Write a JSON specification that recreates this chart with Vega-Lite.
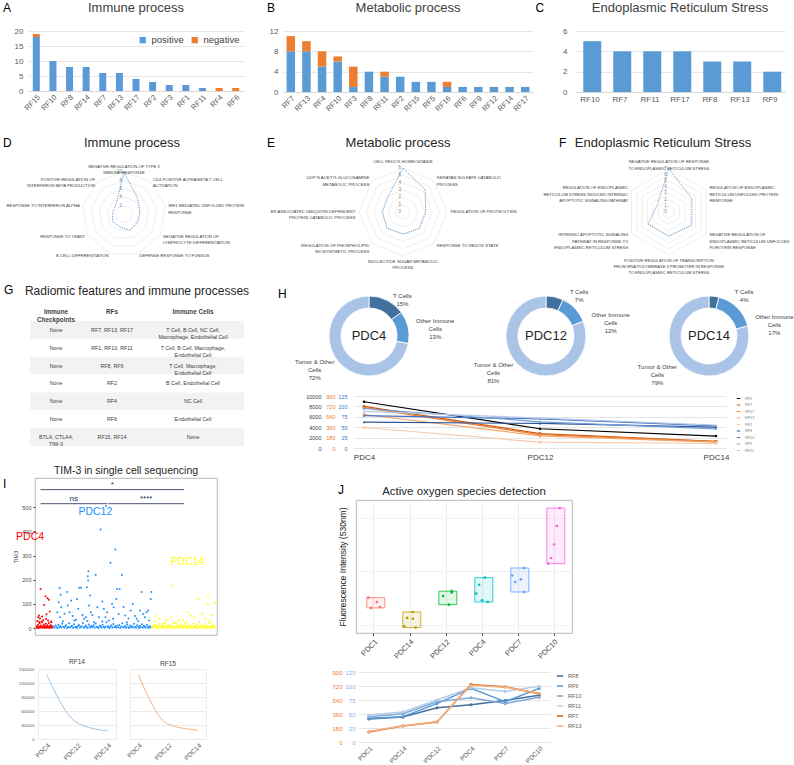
{
"$schema": "https://vega.github.io/schema/vega-lite/v6.json",
"background": "#FFFFFF",
"padding": {"left": 2, "top": 2, "right": 0, "bottom": 0},
"config": {
  "font": "Liberation Sans",
  "view": {"stroke": null},
  "axis": {"labelFont": "Liberation Sans", "titleFont": "Liberation Sans", "labelColor": "#595959", "titleColor": "#404040", "titleFontWeight": "normal", "gridColor": "#E6E6E6", "domainColor": "#D9D9D9", "tickColor": "#D9D9D9"},
  "title": {"font": "Liberation Sans", "fontWeight": "normal", "color": "#262626"},
  "legend": {"labelFont": "Liberation Sans"}
},
"datasets": {
  "A": [{"rf":"RF15","positive":18,"negative":1},{"rf":"RF10","positive":10,"negative":0},{"rf":"RF8","positive":8,"negative":0},{"rf":"RF14","positive":8,"negative":0},{"rf":"RF7","positive":6,"negative":0},{"rf":"RF13","positive":6,"negative":0},{"rf":"RF17","positive":4,"negative":0},{"rf":"RF2","positive":3,"negative":0},{"rf":"RF3","positive":2,"negative":0},{"rf":"RF1","positive":2,"negative":0},{"rf":"RF11","positive":1,"negative":0},{"rf":"RF4","positive":0,"negative":1},{"rf":"RF6","positive":0,"negative":1}],
  "B": [{"rf":"RF7","positive":8,"negative":3},{"rf":"RF13","positive":8,"negative":2},{"rf":"RF4","positive":5,"negative":3},{"rf":"RF10","positive":6,"negative":1},{"rf":"RF3","positive":1,"negative":4},{"rf":"RF8","positive":4,"negative":0},{"rf":"RF11","positive":3,"negative":1},{"rf":"RF2","positive":3,"negative":0},{"rf":"RF15","positive":2,"negative":0},{"rf":"RF5","positive":2,"negative":0},{"rf":"RF16","positive":1,"negative":1},{"rf":"RF6","positive":1,"negative":0},{"rf":"RF9","positive":1,"negative":0},{"rf":"RF12","positive":1,"negative":0},{"rf":"RF14","positive":1,"negative":0},{"rf":"RF17","positive":1,"negative":0}],
  "C": [{"rf":"RF10","n":5},{"rf":"RF7","n":4},{"rf":"RF11","n":4},{"rf":"RF17","n":4},{"rf":"RF8","n":3},{"rf":"RF13","n":3},{"rf":"RF9","n":2}],
  "D": [
    {"k":0,"lab":"NEGATIVE REGULATION OF TYPE 2\nIMMUNE RESPONSE","v":10},
    {"k":1,"lab":"CD4 POSITIVE ALPHA BETA T CELL\nACTIVATION","v":5},
    {"k":2,"lab":"IRE1 MEDIATED UNFOLDED PROTEIN\nRESPONSE","v":3.8},
    {"k":3,"lab":"NEGATIVE REGULATION OF\nLYMPHOCYTE DIFFERENTIATION","v":3.7},
    {"k":4,"lab":"DEFENSE RESPONSE TO FUNGUS","v":4.1},
    {"k":5,"lab":"B CELL DIFFERENTIATION","v":3.2},
    {"k":6,"lab":"RESPONSE TO YEAST","v":3.2},
    {"k":7,"lab":"RESPONSE TO INTERFERON ALPHA","v":2.7},
    {"k":8,"lab":"POSITIVE REGULATION OF\nINTERFERON BETA PRODUCTION","v":3}],
  "E": [
    {"k":0,"lab":"CELL REDOX HOMEOSTASIS","v":6},
    {"k":1,"lab":"KERATAN SULFATE CATABOLIC\nPROCESS","v":4.3},
    {"k":2,"lab":"REGULATION OF PROTEOLYSIS","v":3.1},
    {"k":3,"lab":"RESPONSE TO REDOX STATE","v":3.2},
    {"k":4,"lab":"NUCLEOTIDE SUGAR METABOLIC\nPROCESS","v":3.0},
    {"k":5,"lab":"REGULATION OF PHOSPHOLIPID\nBIOSYNTHETIC PROCESS","v":3.1},
    {"k":6,"lab":"ER ASSOCIATED UBIQUITIN DEPENDENT\nPROTEIN CATABOLIC PROCESS","v":2.8},
    {"k":7,"lab":"UDP N ACETYLGLUCOSAMINE\nMETABOLIC PROCESS","v":2.9}],
  "F": [
    {"k":0,"lab":"NEGATIVE REGULATION OF RESPONSE\nTO ENDOPLASMIC RETICULUM STRESS","v":7},
    {"k":1,"lab":"REGULATION OF ENDOPLASMIC\nRETICULUM UNFOLDED PROTEIN\nRESPONSE","v":4.3},
    {"k":2,"lab":"NEGATIVE REGULATION OF\nENDOPLASMIC RETICULUM UNFOLDED\nPOROTEIN RESPONSE","v":4.3},
    {"k":3,"lab":"POSITIVE REGULATION OF TRANSCRIPTION\nFROM RNA POLYMERASE II PROMOTER IN RESPONSE\nTO ENDOPLASMIC RETICULUM STERSS","v":3.9},
    {"k":4,"lab":"INTRINSIC APOPTOTIC SIGNALING\nPATHWAY IN RESPONSE TO\nENDOPLASMIC RETICULUM STRESS","v":3.9},
    {"k":5,"lab":"REGULATION OF ENDOPLASMIC\nRETICULUM STRESS INDUCED INTRINSIC\nAPOPTOTIC SIGNALING PATHWAY","v":2.2}],
  "tbl": [
    {"row":0,"ck":"Immune\nCheckpoints","rfs":"RFs","cells":"Immune Cells"},
    {"row":1,"ck":"None","rfs":"RF7, RF13, RF17","cells":"T Cell, B Cell, NC Cell,\nMacrophage, Endothelial Cell"},
    {"row":2,"ck":"None","rfs":"RF1, RF10, RF11","cells":"T Cell, B Cell, Macrophage,\nEndothelial Cell"},
    {"row":3,"ck":"None","rfs":"RF8, RF9","cells":"T Cell, Macrophage,\nEndothelial Cell"},
    {"row":4,"ck":"None","rfs":"RF2","cells":"B Cell, Endothelial Cell"},
    {"row":5,"ck":"None","rfs":"RF4","cells":"NC Cell"},
    {"row":6,"ck":"None","rfs":"RF6","cells":"Endothelial Cell"},
    {"row":7,"ck":"BTLA, CTLA4,\nTIM-3","rfs":"RF15, RF14","cells":"None"}],
  "donut": [
    {"pdc":"PDC4","cell":"T Cells","lab":"T Cells","pct":15,"o":1},
    {"pdc":"PDC4","cell":"Other Immune Cells","lab":"Other Immune\nCells","pct":13,"o":2},
    {"pdc":"PDC4","cell":"Tumor & Other Cells","lab":"Tumor & Other\nCells","pct":72,"o":3},
    {"pdc":"PDC12","cell":"T Cells","lab":"T Cells","pct":7,"o":1},
    {"pdc":"PDC12","cell":"Other Immune Cells","lab":"Other Immune\nCells","pct":12,"o":2},
    {"pdc":"PDC12","cell":"Tumor & Other Cells","lab":"Tumor & Other\nCells","pct":81,"o":3},
    {"pdc":"PDC14","cell":"T Cells","lab":"T Cells","pct":4,"o":1},
    {"pdc":"PDC14","cell":"Other Immune Cells","lab":"Other Immune\nCells","pct":17,"o":2},
    {"pdc":"PDC14","cell":"Tumor & Other Cells","lab":"Tumor & Other\nCells","pct":79,"o":3}],
  "hline": [
    {"pdc":"PDC4","RF1":8900,"RF7":720,"RF17":700,"RF13":580,"RF2":355,"RF8":62,"RF10":78,"RF9":95,"RF11":88},
    {"pdc":"PDC12","RF1":3700,"RF7":250,"RF17":230,"RF13":210,"RF2":100,"RF8":59,"RF10":70,"RF9":63,"RF11":72},
    {"pdc":"PDC14","RF1":2300,"RF7":116,"RF17":110,"RF13":100,"RF2":78,"RF8":50,"RF10":53,"RF9":46,"RF11":55}],
  "tim": [
    {"group":"PDC4","pts":[[0,3],[1,9],[3,2],[4,14],[6,5],[7,1],[9,20],[10,7],[12,4],[13,11],[15,2],[16,25],[18,6],[19,3],[21,15],[22,8],[24,1],[25,10],[27,4],[28,18],[30,2],[31,7],[33,12],[34,3],[36,5],[37,22],[39,1],[40,9],[42,4],[43,13],[45,6],[46,2],[48,8],[2,30],[8,26],[20,33],[44,28],[12,162],[27,132],[33,124],[37,117],[23,96],[40,69],[17,48],[29,38],[7,52],[35,32],[45,25],[5,45],[10,40],[30,58],[15,28]]},
    {"group":"PDC12","pts":[[51,5],[54,2],[57,11],[60,7],[63,1],[66,14],[69,4],[72,9],[75,3],[78,18],[81,6],[84,2],[87,8],[90,12],[93,1],[96,5],[99,20],[102,3],[105,7],[108,10],[111,2],[114,16],[117,4],[120,6],[123,1],[126,9],[129,13],[132,3],[135,5],[138,8],[141,22],[144,2],[147,6],[150,11],[153,4],[156,1],[159,15],[162,7],[165,3],[168,9],[171,5],[174,12],[177,2],[180,19],[183,6],[186,4],[189,1],[192,10],[195,8],[198,3],[201,14],[204,5],[207,2],[210,7],[213,25],[216,4],[219,9],[222,1],[225,6],[228,12],[231,3],[234,17],[237,5],[240,8],[243,2],[246,10],[249,4],[252,13],[255,1],[258,7],[261,21],[264,3],[267,6],[270,9],[273,2],[276,15],[279,5],[282,1],[285,11],[288,4],[291,8],[294,3],[297,18],[300,6],[303,2],[306,12],[309,7],[312,1],[315,9],[318,4],[321,16],[324,3],[327,10],[330,5],[333,2],[336,13],[339,6],[342,1],[345,8],[348,4],[70,166],[73,138],[67,107],[75,87],[63,66],[71,45],[80,28],[93,149],[95,94],[105,114],[100,66],[110,50],[115,32],[130,167],[135,167],[123,121],[127,80],[140,55],[145,39],[157,197],[158,235],[156,215],[153,169],[163,135],[160,94],[165,66],[150,45],[180,220],[185,87],[190,45],[175,25],[205,80],[210,45],[215,66],[220,32],[225,270],[240,325],[243,121],[235,87],[245,162],[253,162],[260,220],[250,59],[233,39],[270,52],[275,25],[287,73],[293,100],[300,50],[305,39],[315,73],[320,149],[325,59],[330,45],[335,66],[340,73],[350,149],[348,121],[343,32],[195,407],[212,504],[85,60],[120,35],[200,110],[230,100],[265,88],[280,40],[310,30],[200,28],[170,55],[155,30]]},
    {"group":"PDC14","pts":[[352,4],[355,9],[358,2],[361,13],[364,5],[367,1],[370,8],[373,16],[376,3],[379,6],[382,11],[385,2],[388,7],[391,19],[394,4],[397,1],[400,10],[403,5],[406,14],[409,3],[412,8],[415,2],[418,21],[421,6],[424,1],[427,12],[430,4],[433,9],[436,3],[439,15],[442,6],[445,2],[448,10],[451,5],[454,17],[457,1],[460,8],[463,4],[466,12],[469,3],[472,7],[475,2],[478,18],[481,5],[484,9],[487,1],[490,13],[493,4],[496,6],[499,2],[502,11],[505,7],[508,3],[511,15],[514,5],[517,1],[520,9],[523,4],[526,20],[529,2],[532,8],[535,3],[538,12],[541,6],[544,2],[415,176],[493,121],[523,128],[522,100],[545,105],[365,50],[375,39],[395,32],[410,45],[435,32],[460,66],[470,52],[480,45],[505,59],[515,39],[535,52],[495,25],[425,22],[385,18],[445,35],[530,30],[360,28],[455,25]]}],
  "timbr": [{"x1":12,"x2":450,"y":572},{"x1":12,"x2":215,"y":514},{"x1":218,"x2":450,"y":514}],
  "timtx": [{"x":231,"y":575,"t":"*"},{"x":113,"y":517,"t":"ns"},{"x":334,"y":517,"t":"****"}],
  "timlab": [{"x":-20,"y":376,"t":"PDC4"},{"x":179,"y":479,"t":"PDC12"},{"x":460,"y":273,"t":"PDC14"}],
  "rfc": [{"pdc":"PDC4","RF14":1380000,"RF15":1380000},{"pdc":"PDC12","RF14":350000,"RF15":320000},{"pdc":"PDC14","RF14":172000,"RF15":190000}],
  "ros": [
    {"pdc":"PDC1","rep":1,"v":253},{"pdc":"PDC1","rep":4,"v":237},{"pdc":"PDC1","rep":5,"v":218},{"pdc":"PDC1","rep":2,"v":215},
    {"pdc":"PDC14","rep":4,"v":200},{"pdc":"PDC14","rep":2,"v":178},{"pdc":"PDC14","rep":4,"v":175},{"pdc":"PDC14","rep":1,"v":147},{"pdc":"PDC14","rep":5,"v":142},
    {"pdc":"PDC12","rep":5,"v":277},{"pdc":"PDC12","rep":5,"v":272},{"pdc":"PDC12","rep":2,"v":259},{"pdc":"PDC12","rep":4,"v":227},
    {"pdc":"PDC4","rep":4,"v":327},{"pdc":"PDC4","rep":2,"v":301},{"pdc":"PDC4","rep":1,"v":268},{"pdc":"PDC4","rep":3,"v":243},{"pdc":"PDC4","rep":5,"v":237},
    {"pdc":"PDC7","rep":1,"v":335},{"pdc":"PDC7","rep":5,"v":363},{"pdc":"PDC7","rep":4,"v":321},{"pdc":"PDC7","rep":2,"v":311},{"pdc":"PDC7","rep":5,"v":274},
    {"pdc":"PDC10","rep":5,"v":585},{"pdc":"PDC10","rep":4,"v":519},{"pdc":"PDC10","rep":3,"v":450},{"pdc":"PDC10","rep":2,"v":400},{"pdc":"PDC10","rep":1,"v":379}],
  "jline": [
    {"pdc":"PDC1","RF8":41,"RF9":42.5,"RF10":45,"RF11":48,"RF7":130,"RF13":135},
    {"pdc":"PDC14","RF8":44.7,"RF9":45,"RF10":50.5,"RF11":53.7,"RF7":207,"RF13":210},
    {"pdc":"PDC12","RF8":61,"RF9":68.6,"RF10":71.8,"RF11":75,"RF7":257,"RF13":260},
    {"pdc":"PDC4","RF8":66.5,"RF9":95.7,"RF10":79,"RF11":96.8,"RF7":740,"RF13":730},
    {"pdc":"PDC7","RF8":74,"RF9":71.8,"RF10":68.6,"RF11":90.4,"RF7":710,"RF13":705},
    {"pdc":"PDC10","RF8":83.5,"RF9":95.7,"RF10":80,"RF11":99.5,"RF7":620,"RF13":630}]
},
"resolve": {"scale": {"color": "independent", "stroke": "independent"}, "legend": {"color": "independent", "stroke": "independent"}},
"vconcat": [
 {"resolve": {"scale": {"color": "independent", "stroke": "independent"}, "legend": {"color": "independent", "stroke": "independent"}},
  "vconcat": [
  {"resolve": {"scale": {"color": "independent", "stroke": "independent"}, "legend": {"color": "independent", "stroke": "independent"}},
   "hconcat": [
   {"width": 1, "height": 1, "data": {"values": []}, "mark": "point"},
   {"resolve": {"scale": {"color": "independent", "stroke": "independent"}, "legend": {"color": "independent", "stroke": "independent"}},
   "hconcat": [
    {"title": {"text": "A", "anchor": "start", "offset": -13, "fontSize": 12, "color": "#000000", "dx": -11},
     "resolve": {"scale": {"color": "independent", "stroke": "independent"}, "legend": {"color": "independent", "stroke": "independent"}},
     "vconcat": [{
      "title": {"text": "Immune process", "fontSize": 13, "offset": 12, "color": "#404040", "anchor": "middle"},
      "width": 216, "height": 60,
      "data": {"name": "A"},
      "transform": [{"fold": ["positive", "negative"], "as": ["type", "n"]}],
      "mark": {"type": "bar", "width": 7},
      "encoding": {
        "x": {"field": "rf", "type": "nominal", "sort": null, "scale": {"paddingInner": 0.6, "paddingOuter": 0.3}, "axis": {"title": null, "labelAngle": -45, "labelFontSize": 7.5, "ticks": false, "labelPadding": 2}},
        "y": {"field": "n", "type": "quantitative", "scale": {"domain": [0, 20]}, "axis": {"title": null, "values": [0, 5, 10, 15, 20], "labelFontSize": 8, "ticks": false, "domain": false, "labelPadding": 5}},
        "color": {"field": "type", "type": "nominal", "scale": {"domain": ["positive", "negative"], "range": ["#5B9BD5", "#ED7D31"]}, "legend": {"orient": "top-right", "title": null, "direction": "horizontal", "labelFontSize": 9.5, "labelColor": "#404040", "symbolType": "square", "symbolSize": 40, "offset": 4, "columnPadding": 6, "padding": 0}},
        "order": {"field": "type", "sort": "descending"}
      }
    }]},
    {"resolve": {"scale": {"color": "independent", "stroke": "independent"}, "legend": {"color": "independent", "stroke": "independent"}},
     "hconcat": [
      {"title": {"text": "B", "anchor": "start", "offset": -13, "fontSize": 12, "color": "#000000", "dx": -2},
       "resolve": {"scale": {"color": "independent", "stroke": "independent"}, "legend": {"color": "independent", "stroke": "independent"}},
       "vconcat": [{
        "title": {"text": "Metabolic process", "fontSize": 13, "offset": 12, "color": "#404040", "anchor": "middle"},
        "width": 250, "height": 61,
        "data": {"name": "B"},
        "transform": [{"fold": ["positive", "negative"], "as": ["type", "n"]}],
        "mark": {"type": "bar", "width": 8.5},
        "encoding": {
          "x": {"field": "rf", "type": "nominal", "sort": null, "scale": {"paddingInner": 0.45, "paddingOuter": 0.225}, "axis": {"title": null, "labelAngle": -45, "labelFontSize": 7.5, "ticks": false, "labelPadding": 2}},
          "y": {"field": "n", "type": "quantitative", "scale": {"domain": [0, 12]}, "axis": {"title": null, "values": [0, 4, 8, 12], "labelFontSize": 8, "ticks": false, "domain": false, "labelPadding": 5}},
          "color": {"field": "type", "type": "nominal", "scale": {"domain": ["positive", "negative"], "range": ["#5B9BD5", "#ED7D31"]}, "legend": null},
          "order": {"field": "type", "sort": "descending"}
        }
      }]},
      {"title": {"text": "C", "anchor": "start", "offset": -13, "fontSize": 12, "color": "#000000", "dx": -27},
       "resolve": {"scale": {"color": "independent", "stroke": "independent"}, "legend": {"color": "independent", "stroke": "independent"}},
       "vconcat": [{
        "title": {"text": "Endoplasmic Reticulum Stress", "fontSize": 13, "offset": 12, "color": "#404040", "anchor": "middle"},
        "width": 210, "height": 61,
        "data": {"name": "C"},
        "mark": {"type": "bar", "color": "#5B9BD5"},
        "encoding": {
          "x": {"field": "rf", "type": "nominal", "sort": null, "scale": {"paddingInner": 0.55, "paddingOuter": 0.275}, "axis": {"title": null, "labelAngle": 0, "labelFontSize": 8, "ticks": false, "labelPadding": 3}},
          "y": {"field": "n", "type": "quantitative", "scale": {"domain": [0, 6]}, "axis": {"title": null, "values": [0, 2, 4, 6], "labelFontSize": 8, "ticks": false, "domain": false, "labelPadding": 8}}
        }
      }]}
    ], "spacing": 2}
  ], "spacing": 23}
  ], "spacing": 0},
  {"resolve": {"scale": {"color": "independent", "stroke": "independent"}, "legend": {"color": "independent", "stroke": "independent"}},
   "hconcat": [
   {"width": 1, "height": 1, "data": {"values": []}, "mark": "point"},
   {"hconcat": [
    {"title": {"text": "D", "anchor": "start", "offset": -13, "fontSize": 12, "color": "#000000"},
     "vconcat": [{
      "title": {"text": "Immune process", "fontSize": 13, "offset": 2, "color": "#262626", "anchor": "middle"},
      "width": 258, "height": 118,
      "encoding": {
        "x": {"field": "x", "type": "quantitative", "scale": {"domain": [-28.8, 32.6], "nice": false, "zero": false}, "axis": null},
        "y": {"field": "y", "type": "quantitative", "scale": {"domain": [-13.3, 14.8], "nice": false, "zero": false}, "axis": null}
      },
      "layer": [
        {"data": {"values": [{"ring":2,"k":[0,1,2,3,4,5,6,7,8]},{"ring":4,"k":[0,1,2,3,4,5,6,7,8]},{"ring":6,"k":[0,1,2,3,4,5,6,7,8]},{"ring":8,"k":[0,1,2,3,4,5,6,7,8]},{"ring":10,"k":[0,1,2,3,4,5,6,7,8]}]},
         "transform": [{"flatten": ["k"]}, {"calculate": "2*PI*datum.k/9", "as": "a"}, {"calculate": "datum.ring*sin(datum.a)", "as": "x"}, {"calculate": "datum.ring*cos(datum.a)", "as": "y"}],
         "mark": {"type": "line", "interpolate": "linear-closed", "stroke": "#E3E3E3", "strokeWidth": 0.6},
         "encoding": {"detail": {"field": "ring", "type": "nominal"}, "order": {"field": "k", "type": "quantitative"}}},
        {"data": {"values": [{"ring":2},{"ring":4},{"ring":6},{"ring":8},{"ring":10}]},
         "transform": [{"calculate": "0", "as": "x"}, {"calculate": "datum.ring", "as": "y"}],
         "mark": {"type": "text", "align": "right", "dx": -2, "fontSize": 4.5, "color": "#7F7F7F"},
         "encoding": {"text": {"field": "ring", "type": "quantitative"}}},
        {"data": {"name": "D"},
         "transform": [{"calculate": "2*PI*datum.k/9", "as": "a"}, {"calculate": "datum.v*sin(datum.a)", "as": "x"}, {"calculate": "datum.v*cos(datum.a)", "as": "y"}],
         "mark": {"type": "line", "interpolate": "linear-closed", "stroke": "#5B9BD5", "strokeWidth": 1, "strokeDash": [1.2, 1.2]},
         "encoding": {"order": {"field": "k", "type": "quantitative"}}},
        {"data": {"name": "D"},
         "transform": [{"calculate": "2*PI*datum.k/9", "as": "a"}, {"calculate": "10.7*sin(datum.a)", "as": "x"}, {"calculate": "10.7*cos(datum.a)", "as": "y"}, {"filter": "sin(datum.a) > 0.05"}],
         "mark": {"type": "text", "align": "left", "baseline": "middle", "fontSize": 4.2, "lineBreak": "\n", "color": "#404040"},
         "encoding": {"text": {"field": "lab", "type": "nominal"}}},
        {"data": {"name": "D"},
         "transform": [{"calculate": "2*PI*datum.k/9", "as": "a"}, {"calculate": "10.7*sin(datum.a)", "as": "x"}, {"calculate": "10.7*cos(datum.a)", "as": "y"}, {"filter": "sin(datum.a) < -0.05"}],
         "mark": {"type": "text", "align": "right", "baseline": "middle", "fontSize": 4.2, "lineBreak": "\n", "color": "#404040"},
         "encoding": {"text": {"field": "lab", "type": "nominal"}}},
        {"data": {"name": "D"},
         "transform": [{"calculate": "2*PI*datum.k/9", "as": "a"}, {"calculate": "10.7*sin(datum.a)", "as": "x"}, {"calculate": "10.7*cos(datum.a)", "as": "y"}, {"filter": "abs(sin(datum.a)) <= 0.05 && cos(datum.a) > 0"}],
         "mark": {"type": "text", "align": "center", "baseline": "bottom", "fontSize": 4.2, "lineBreak": "\n", "color": "#404040"},
         "encoding": {"text": {"field": "lab", "type": "nominal"}}}
      ]
    }]},
    {"hconcat": [
      {"title": {"text": "E", "anchor": "start", "offset": -13, "fontSize": 12, "color": "#000000"},
       "vconcat": [{
        "title": {"text": "Metabolic process", "fontSize": 13, "offset": 2, "color": "#262626", "anchor": "middle"},
        "width": 262, "height": 118,
        "encoding": {
          "x": {"field": "x", "type": "quantitative", "scale": {"domain": [-18.55, 17.2], "nice": false, "zero": false}, "axis": null},
          "y": {"field": "y", "type": "quantitative", "scale": {"domain": [-7.9, 8.2], "nice": false, "zero": false}, "axis": null}
        },
        "layer": [
          {"data": {"values": [{"ring":1,"k":[0,1,2,3,4,5,6,7]},{"ring":2,"k":[0,1,2,3,4,5,6,7]},{"ring":3,"k":[0,1,2,3,4,5,6,7]},{"ring":4,"k":[0,1,2,3,4,5,6,7]},{"ring":5,"k":[0,1,2,3,4,5,6,7]},{"ring":6,"k":[0,1,2,3,4,5,6,7]}]},
           "transform": [{"flatten": ["k"]}, {"calculate": "2*PI*datum.k/8", "as": "a"}, {"calculate": "datum.ring*sin(datum.a)", "as": "x"}, {"calculate": "datum.ring*cos(datum.a)", "as": "y"}],
           "mark": {"type": "line", "interpolate": "linear-closed", "stroke": "#E3E3E3", "strokeWidth": 0.6},
           "encoding": {"detail": {"field": "ring", "type": "nominal"}, "order": {"field": "k", "type": "quantitative"}}},
          {"data": {"values": [{"ring":0},{"ring":1},{"ring":2},{"ring":3},{"ring":4},{"ring":5},{"ring":6}]},
           "transform": [{"calculate": "0", "as": "x"}, {"calculate": "datum.ring", "as": "y"}],
           "mark": {"type": "text", "align": "right", "dx": -2, "fontSize": 4.5, "color": "#7F7F7F"},
           "encoding": {"text": {"field": "ring", "type": "quantitative"}}},
          {"data": {"name": "E"},
           "transform": [{"calculate": "2*PI*datum.k/8", "as": "a"}, {"calculate": "datum.v*sin(datum.a)", "as": "x"}, {"calculate": "datum.v*cos(datum.a)", "as": "y"}],
           "mark": {"type": "line", "interpolate": "linear-closed", "stroke": "#5B9BD5", "strokeWidth": 1, "strokeDash": [1.2, 1.2]},
           "encoding": {"order": {"field": "k", "type": "quantitative"}}},
          {"data": {"name": "E"},
           "transform": [{"calculate": "2*PI*datum.k/8", "as": "a"}, {"calculate": "6.5*sin(datum.a)", "as": "x"}, {"calculate": "6.5*cos(datum.a)", "as": "y"}, {"filter": "sin(datum.a) > 0.05"}],
           "mark": {"type": "text", "align": "left", "baseline": "middle", "fontSize": 4.3, "lineBreak": "\n", "color": "#404040"},
           "encoding": {"text": {"field": "lab", "type": "nominal"}}},
          {"data": {"name": "E"},
           "transform": [{"calculate": "2*PI*datum.k/8", "as": "a"}, {"calculate": "6.5*sin(datum.a)", "as": "x"}, {"calculate": "6.5*cos(datum.a)", "as": "y"}, {"filter": "sin(datum.a) < -0.05"}],
           "mark": {"type": "text", "align": "right", "baseline": "middle", "fontSize": 4.3, "lineBreak": "\n", "color": "#404040"},
           "encoding": {"text": {"field": "lab", "type": "nominal"}}},
          {"data": {"name": "E"},
           "transform": [{"calculate": "2*PI*datum.k/8", "as": "a"}, {"calculate": "6.5*sin(datum.a)", "as": "x"}, {"calculate": "6.5*cos(datum.a)", "as": "y"}, {"filter": "abs(sin(datum.a)) <= 0.05 && cos(datum.a) > 0"}],
           "mark": {"type": "text", "align": "center", "baseline": "bottom", "fontSize": 4.3, "lineBreak": "\n", "color": "#404040"},
           "encoding": {"text": {"field": "lab", "type": "nominal"}}},
          {"data": {"name": "E"},
           "transform": [{"calculate": "2*PI*datum.k/8", "as": "a"}, {"calculate": "6.5*sin(datum.a)", "as": "x"}, {"calculate": "6.5*cos(datum.a)", "as": "y"}, {"filter": "abs(sin(datum.a)) <= 0.05 && cos(datum.a) < 0"}],
           "mark": {"type": "text", "align": "center", "baseline": "top", "fontSize": 4.3, "lineBreak": "\n", "color": "#404040"},
           "encoding": {"text": {"field": "lab", "type": "nominal"}}}
        ]
      }]},
      {"title": {"text": "F", "anchor": "start", "offset": -13, "fontSize": 12, "color": "#000000", "dx": 26},
       "vconcat": [{
        "title": {"text": "Endoplasmic Reticulum Stress", "fontSize": 13, "offset": 2, "color": "#262626", "anchor": "middle"},
        "width": 260, "height": 118,
        "encoding": {
          "x": {"field": "x", "type": "quantitative", "scale": {"domain": [-22.0, 20.1], "nice": false, "zero": false}, "axis": null},
          "y": {"field": "y", "type": "quantitative", "scale": {"domain": [-9.4, 9.7], "nice": false, "zero": false}, "axis": null}
        },
        "layer": [
          {"data": {"values": [{"ring":1,"k":[0,1,2,3,4,5]},{"ring":2,"k":[0,1,2,3,4,5]},{"ring":3,"k":[0,1,2,3,4,5]},{"ring":4,"k":[0,1,2,3,4,5]},{"ring":5,"k":[0,1,2,3,4,5]},{"ring":6,"k":[0,1,2,3,4,5]},{"ring":7,"k":[0,1,2,3,4,5]}]},
           "transform": [{"flatten": ["k"]}, {"calculate": "2*PI*datum.k/6", "as": "a"}, {"calculate": "datum.ring*sin(datum.a)", "as": "x"}, {"calculate": "datum.ring*cos(datum.a)", "as": "y"}],
           "mark": {"type": "line", "interpolate": "linear-closed", "stroke": "#E3E3E3", "strokeWidth": 0.6},
           "encoding": {"detail": {"field": "ring", "type": "nominal"}, "order": {"field": "k", "type": "quantitative"}}},
          {"data": {"values": [{"ring":0},{"ring":1},{"ring":2},{"ring":3},{"ring":4},{"ring":5},{"ring":6},{"ring":7}]},
           "transform": [{"calculate": "0", "as": "x"}, {"calculate": "datum.ring", "as": "y"}],
           "mark": {"type": "text", "align": "right", "dx": -2, "fontSize": 4.5, "color": "#7F7F7F"},
           "encoding": {"text": {"field": "ring", "type": "quantitative"}}},
          {"data": {"name": "F"},
           "transform": [{"calculate": "2*PI*datum.k/6", "as": "a"}, {"calculate": "datum.v*sin(datum.a)", "as": "x"}, {"calculate": "datum.v*cos(datum.a)", "as": "y"}],
           "mark": {"type": "line", "interpolate": "linear-closed", "stroke": "#5B9BD5", "strokeWidth": 1, "strokeDash": [1.2, 1.2]},
           "encoding": {"order": {"field": "k", "type": "quantitative"}}},
          {"data": {"name": "F"},
           "transform": [{"calculate": "2*PI*datum.k/6", "as": "a"}, {"calculate": "7.6*sin(datum.a)", "as": "x"}, {"calculate": "7.6*cos(datum.a)", "as": "y"}, {"filter": "sin(datum.a) > 0.05"}],
           "mark": {"type": "text", "align": "left", "baseline": "middle", "fontSize": 4.2, "lineBreak": "\n", "color": "#404040"},
           "encoding": {"text": {"field": "lab", "type": "nominal"}}},
          {"data": {"name": "F"},
           "transform": [{"calculate": "2*PI*datum.k/6", "as": "a"}, {"calculate": "7.6*sin(datum.a)", "as": "x"}, {"calculate": "7.6*cos(datum.a)", "as": "y"}, {"filter": "sin(datum.a) < -0.05"}],
           "mark": {"type": "text", "align": "right", "baseline": "middle", "fontSize": 4.2, "lineBreak": "\n", "color": "#404040"},
           "encoding": {"text": {"field": "lab", "type": "nominal"}}},
          {"data": {"name": "F"},
           "transform": [{"calculate": "2*PI*datum.k/6", "as": "a"}, {"calculate": "7.7*sin(datum.a)", "as": "x"}, {"calculate": "7.7*cos(datum.a)", "as": "y"}, {"filter": "abs(sin(datum.a)) <= 0.05 && cos(datum.a) > 0"}],
           "mark": {"type": "text", "align": "center", "baseline": "bottom", "fontSize": 4.2, "lineBreak": "\n", "color": "#404040"},
           "encoding": {"text": {"field": "lab", "type": "nominal"}}},
          {"data": {"name": "F"},
           "transform": [{"calculate": "2*PI*datum.k/6", "as": "a"}, {"calculate": "7.6*sin(datum.a)", "as": "x"}, {"calculate": "7.6*cos(datum.a)", "as": "y"}, {"filter": "abs(sin(datum.a)) <= 0.05 && cos(datum.a) < 0"}],
           "mark": {"type": "text", "align": "center", "baseline": "top", "fontSize": 4.2, "lineBreak": "\n", "color": "#404040"},
           "encoding": {"text": {"field": "lab", "type": "nominal"}}}
        ]
      }]}
    ], "spacing": 4}
  ], "spacing": 6}
  ], "spacing": 0}
 ], "spacing": 24},
 {"resolve": {"scale": {"color": "independent", "stroke": "independent"}, "legend": {"color": "independent", "stroke": "independent"}},
  "vconcat": [
  {"resolve": {"scale": {"color": "independent", "stroke": "independent"}, "legend": {"color": "independent", "stroke": "independent"}},
   "hconcat": [
   {"width": 1, "height": 1, "data": {"values": []}, "mark": "point"},
   {"resolve": {"scale": {"color": "independent", "stroke": "independent"}, "legend": {"color": "independent", "stroke": "independent"}},
    "hconcat": [
    {"title": {"text": "G", "anchor": "start", "offset": -12, "fontSize": 12, "color": "#000000", "dx": -21},
     "vconcat": [{
      "title": {"text": "Radiomic features and immune processes", "fontSize": 12, "offset": 5, "color": "#262626", "anchor": "middle"},
      "hconcat": [
        {"width": 52, "height": 143, "data": {"name": "tbl"},
         "transform": [{"calculate": "datum.row % 2", "as": "par"}],
         "encoding": {"y": {"field": "row", "type": "ordinal", "axis": null, "scale": {"paddingInner": 0, "paddingOuter": 0}}},
         "layer": [
           {"mark": {"type": "bar"}, "encoding": {"color": {"field": "par", "type": "nominal", "scale": {"domain": [0, 1], "range": ["#FFFFFF", "#F2F2F2"]}, "legend": null}}},
           {"transform": [{"filter": "datum.row > 0"}], "mark": {"type": "text", "fontSize": 5.3, "lineBreak": "\n", "color": "#404040"}, "encoding": {"text": {"field": "ck", "type": "nominal"}}},
           {"transform": [{"filter": "datum.row == 0"}], "mark": {"type": "text", "fontSize": 6.3, "fontWeight": "bold", "lineBreak": "\n", "color": "#404040"}, "encoding": {"text": {"field": "ck", "type": "nominal"}}}
         ]},
        {"width": 60, "height": 143, "data": {"name": "tbl"},
         "transform": [{"calculate": "datum.row % 2", "as": "par"}],
         "encoding": {"y": {"field": "row", "type": "ordinal", "axis": null, "scale": {"paddingInner": 0, "paddingOuter": 0}}},
         "layer": [
           {"mark": {"type": "bar"}, "encoding": {"color": {"field": "par", "type": "nominal", "scale": {"domain": [0, 1], "range": ["#FFFFFF", "#F2F2F2"]}, "legend": null}}},
           {"transform": [{"filter": "datum.row > 0"}], "mark": {"type": "text", "fontSize": 5.3, "lineBreak": "\n", "color": "#404040"}, "encoding": {"text": {"field": "rfs", "type": "nominal"}}},
           {"transform": [{"filter": "datum.row == 0"}], "mark": {"type": "text", "fontSize": 6.3, "fontWeight": "bold", "lineBreak": "\n", "color": "#404040"}, "encoding": {"text": {"field": "rfs", "type": "nominal"}}}
         ]},
        {"width": 102, "height": 143, "data": {"name": "tbl"},
         "transform": [{"calculate": "datum.row % 2", "as": "par"}],
         "encoding": {"y": {"field": "row", "type": "ordinal", "axis": null, "scale": {"paddingInner": 0, "paddingOuter": 0}}},
         "layer": [
           {"mark": {"type": "bar"}, "encoding": {"color": {"field": "par", "type": "nominal", "scale": {"domain": [0, 1], "range": ["#FFFFFF", "#F2F2F2"]}, "legend": null}}},
           {"transform": [{"filter": "datum.row > 0"}], "mark": {"type": "text", "fontSize": 5.3, "lineBreak": "\n", "color": "#404040"}, "encoding": {"text": {"field": "cells", "type": "nominal"}}},
           {"transform": [{"filter": "datum.row == 0"}], "mark": {"type": "text", "fontSize": 6.3, "fontWeight": "bold", "lineBreak": "\n", "color": "#404040"}, "encoding": {"text": {"field": "cells", "type": "nominal"}}}
         ]}
      ], "spacing": 0
    }]},
    {"title": {"text": "H", "anchor": "start", "offset": -12, "fontSize": 12, "color": "#000000"},
     "resolve": {"scale": {"color": "independent", "stroke": "independent"}, "legend": {"color": "independent", "stroke": "independent"}},
     "vconcat": [
      {"hconcat": [
       {"width": 1, "height": 1, "data": {"values": []}, "mark": "point"},
       {"hconcat": [
        {"width": 180, "height": 66, "data": {"name": "donut"},
         "transform": [{"filter": "datum.pdc == 'PDC4'"}, {"calculate": "datum.lab + '\\n' + datum.pct + '%'", "as": "txt"}],
         "encoding": {"theta": {"field": "pct", "type": "quantitative", "stack": true, "scale": {"domain": [0, 100]}}, "order": {"field": "o", "type": "quantitative"}},
         "layer": [
           {"mark": {"type": "arc", "innerRadius": 28, "outerRadius": 40, "stroke": "#FFFFFF", "strokeWidth": 0.8}, "encoding": {"color": {"field": "cell", "type": "nominal", "scale": {"domain": ["T Cells", "Other Immune Cells", "Tumor & Other Cells"], "range": ["#41719C", "#5B9BD5", "#A9C4E6"]}, "legend": null}}},
           {"transform": [{"filter": "datum.o == 1"}], "mark": {"type": "text", "radius": 52, "fontSize": 6, "lineBreak": "\n", "color": "#404040"}, "encoding": {"theta": {"datum": 11.1, "type": "quantitative", "stack": null}, "text": {"field": "txt", "type": "nominal"}}},
           {"transform": [{"filter": "datum.o == 2"}], "mark": {"type": "text", "radius": 68, "fontSize": 6, "lineBreak": "\n", "color": "#404040"}, "encoding": {"theta": {"datum": 21.4, "type": "quantitative", "stack": null}, "text": {"field": "txt", "type": "nominal"}}},
           {"transform": [{"filter": "datum.o == 3"}], "mark": {"type": "text", "radius": 60, "fontSize": 6, "lineBreak": "\n", "color": "#404040"}, "encoding": {"theta": {"datum": 68, "type": "quantitative", "stack": null}, "text": {"field": "txt", "type": "nominal"}}},
           {"transform": [{"filter": "datum.o == 1"}], "mark": {"type": "text", "radius": 0, "fontSize": 13, "color": "#262626"}, "encoding": {"text": {"field": "pdc", "type": "nominal"}}}
         ]},
        {"width": 174, "height": 66, "data": {"name": "donut"},
         "transform": [{"filter": "datum.pdc == 'PDC12'"}, {"calculate": "datum.lab + '\\n' + datum.pct + '%'", "as": "txt"}],
         "encoding": {"theta": {"field": "pct", "type": "quantitative", "stack": true, "scale": {"domain": [0, 100]}}, "order": {"field": "o", "type": "quantitative"}},
         "layer": [
           {"mark": {"type": "arc", "innerRadius": 28, "outerRadius": 40, "stroke": "#FFFFFF", "strokeWidth": 0.8}, "encoding": {"color": {"field": "cell", "type": "nominal", "scale": {"domain": ["T Cells", "Other Immune Cells", "Tumor & Other Cells"], "range": ["#41719C", "#5B9BD5", "#A9C4E6"]}, "legend": null}}},
           {"transform": [{"filter": "datum.o == 1"}], "mark": {"type": "text", "radius": 55, "fontSize": 6, "lineBreak": "\n", "color": "#404040"}, "encoding": {"theta": {"datum": 10.3, "type": "quantitative", "stack": null}, "text": {"field": "txt", "type": "nominal"}}},
           {"transform": [{"filter": "datum.o == 2"}], "mark": {"type": "text", "radius": 68, "fontSize": 6, "lineBreak": "\n", "color": "#404040"}, "encoding": {"theta": {"datum": 20, "type": "quantitative", "stack": null}, "text": {"field": "txt", "type": "nominal"}}},
           {"transform": [{"filter": "datum.o == 3"}], "mark": {"type": "text", "radius": 60, "fontSize": 6, "lineBreak": "\n", "color": "#404040"}, "encoding": {"theta": {"datum": 67, "type": "quantitative", "stack": null}, "text": {"field": "txt", "type": "nominal"}}},
           {"transform": [{"filter": "datum.o == 1"}], "mark": {"type": "text", "radius": 0, "fontSize": 13, "color": "#262626"}, "encoding": {"text": {"field": "pdc", "type": "nominal"}}}
         ]},
        {"width": 152, "height": 66, "data": {"name": "donut"},
         "transform": [{"filter": "datum.pdc == 'PDC14'"}, {"calculate": "datum.lab + '\\n' + datum.pct + '%'", "as": "txt"}],
         "encoding": {"theta": {"field": "pct", "type": "quantitative", "stack": true, "scale": {"domain": [0, 100]}}, "order": {"field": "o", "type": "quantitative"}},
         "layer": [
           {"mark": {"type": "arc", "innerRadius": 28, "outerRadius": 40, "stroke": "#FFFFFF", "strokeWidth": 0.8}, "encoding": {"color": {"field": "cell", "type": "nominal", "scale": {"domain": ["T Cells", "Other Immune Cells", "Tumor & Other Cells"], "range": ["#41719C", "#5B9BD5", "#A9C4E6"]}, "legend": null}}},
           {"transform": [{"filter": "datum.o == 1"}], "mark": {"type": "text", "radius": 56, "fontSize": 6, "lineBreak": "\n", "color": "#404040"}, "encoding": {"theta": {"datum": 10.8, "type": "quantitative", "stack": null}, "text": {"field": "txt", "type": "nominal"}}},
           {"transform": [{"filter": "datum.o == 2"}], "mark": {"type": "text", "radius": 68, "fontSize": 6, "lineBreak": "\n", "color": "#404040"}, "encoding": {"theta": {"datum": 20.5, "type": "quantitative", "stack": null}, "text": {"field": "txt", "type": "nominal"}}},
           {"transform": [{"filter": "datum.o == 3"}], "mark": {"type": "text", "radius": 60, "fontSize": 6, "lineBreak": "\n", "color": "#404040"}, "encoding": {"theta": {"datum": 66.5, "type": "quantitative", "stack": null}, "text": {"field": "txt", "type": "nominal"}}},
           {"transform": [{"filter": "datum.o == 1"}], "mark": {"type": "text", "radius": 0, "fontSize": 13, "color": "#262626"}, "encoding": {"text": {"field": "pdc", "type": "nominal"}}}
         ]}
       ], "spacing": 0}
      ], "spacing": 0},
      {"resolve": {"scale": {"color": "independent", "stroke": "independent"}, "legend": {"color": "independent", "stroke": "independent"}},
       "hconcat": [
       {"width": 1, "height": 1, "data": {"values": []}, "mark": "point"},
       {"resolve": {"scale": {"color": "independent", "stroke": "independent"}, "legend": {"color": "independent", "stroke": "independent"}},
        "vconcat": [
       {"width": 372, "height": 52, "data": {"name": "hline"},
       "layer": [
         {"transform": [{"fold": ["RF1"], "as": ["rf", "v"]}],
          "mark": {"type": "line", "strokeWidth": 1.2, "point": {"size": 7, "filled": true}},
          "encoding": {
            "x": {"field": "pdc", "type": "ordinal", "sort": null, "scale": {"type": "point", "padding": 0.057}, "axis": {"title": null, "labelAngle": 0, "labelFontSize": 8, "labelColor": "#404040", "ticks": false, "domain": false, "labelPadding": 5, "grid": false}},
            "y": {"field": "v", "type": "quantitative", "scale": {"domain": [0, 10000]}, "axis": {"orient": "left", "title": ".", "titleOpacity": 0, "titlePadding": 20, "titleFontSize": 6, "values": [0, 2000, 4000, 6000, 8000, 10000], "format": "d", "labelFontSize": 5.5, "labelColor": "#404040", "labelPadding": 33, "ticks": false, "domain": false, "grid": true, "gridColor": "#E6E6E6"}},
            "color": {"field": "rf", "type": "nominal", "scale": {"domain": ["RF1", "RF7", "RF17", "RF13", "RF2", "RF8", "RF10", "RF9", "RF11"], "range": ["#000000", "#C55A11", "#ED7D31", "#F4A46A", "#F8CBAD", "#2F5597", "#4472C4", "#6F9FD8", "#B4C7E7"]}, "legend": {"title": null, "orient": "right", "labelFontSize": 3.8, "labelColor": "#7F7F7F", "symbolType": "stroke", "symbolSize": 12, "symbolStrokeWidth": 1, "rowPadding": 1.5, "offset": 10, "padding": 0}}
          }},
         {"transform": [{"fold": ["RF7", "RF17", "RF13", "RF2"], "as": ["rf", "v"]}],
          "mark": {"type": "line", "strokeWidth": 1.2, "point": {"size": 7, "filled": true, "shape": "square"}},
          "encoding": {
            "x": {"field": "pdc", "type": "ordinal", "sort": null},
            "y": {"field": "v", "type": "quantitative", "scale": {"domain": [0, 900]}, "axis": {"orient": "left", "title": null, "values": [0, 180, 360, 540, 720, 900], "labelFontSize": 5.5, "labelColor": "#ED7D31", "labelPadding": 19, "ticks": false, "domain": false, "grid": false}},
            "color": {"field": "rf", "type": "nominal"}
          }},
         {"transform": [{"fold": ["RF8", "RF10", "RF9", "RF11"], "as": ["rf", "v"]}],
          "mark": {"type": "line", "strokeWidth": 1.2, "point": {"size": 7, "filled": true, "shape": "triangle-up"}},
          "encoding": {
            "x": {"field": "pdc", "type": "ordinal", "sort": null},
            "y": {"field": "v", "type": "quantitative", "scale": {"domain": [0, 125]}, "axis": {"orient": "left", "title": null, "values": [0, 25, 50, 75, 100, 125], "labelFontSize": 5.5, "labelColor": "#4472C4", "labelPadding": 7, "ticks": false, "domain": false, "grid": false}},
            "color": {"field": "rf", "type": "nominal"}
          }}
       ],
       "resolve": {"scale": {"y": "independent"}, "axis": {"y": "independent"}}}
       ]}
      ], "spacing": 0}
     ], "spacing": 8}
  ], "spacing": 28}
  ], "spacing": 0},
  {"resolve": {"scale": {"color": "independent", "stroke": "independent"}, "legend": {"color": "independent", "stroke": "independent"}},
   "hconcat": [
   {"width": 1, "height": 1, "data": {"values": []}, "mark": "point"},
   {"resolve": {"scale": {"color": "independent", "stroke": "independent"}, "legend": {"color": "independent", "stroke": "independent"}},
    "hconcat": [
    {"title": {"text": "I", "anchor": "start", "offset": -26, "fontSize": 12, "color": "#000000"},
     "resolve": {"scale": {"color": "independent", "stroke": "independent"}, "legend": {"color": "independent", "stroke": "independent"}},
     "vconcat": [
      {"resolve": {"scale": {"color": "independent", "stroke": "independent"}, "legend": {"color": "independent", "stroke": "independent"}},
       "hconcat": [
       {"width": 10, "height": 1, "data": {"values": []}, "mark": "point"},
       {"resolve": {"scale": {"color": "independent", "stroke": "independent"}, "legend": {"color": "independent", "stroke": "independent"}},
        "vconcat": [
       {"title": {"text": "TIM-3 in single cell sequencing", "fontSize": 10.5, "offset": 2, "color": "#262626", "anchor": "middle"},
       "width": 182, "height": 157,
       "view": {"stroke": "#A6A6A6", "strokeWidth": 0.8},
       "layer": [
         {"data": {"name": "tim"},
          "transform": [{"flatten": ["pts"]}, {"calculate": "datum.pts[0]", "as": "cell"}, {"calculate": "datum.pts[1]", "as": "tim3"}],
          "mark": {"type": "circle", "size": 4, "opacity": 1},
          "encoding": {
            "x": {"field": "cell", "type": "quantitative", "scale": {"domain": [-5, 550], "nice": false, "zero": false}, "axis": null},
            "y": {"field": "tim3", "type": "quantitative", "scale": {"domain": [-28, 620], "nice": false, "zero": false}, "axis": {"title": "TIM3", "titleFontSize": 5.5, "titlePadding": 3, "values": [0, 100, 200, 300, 400, 500], "labelOverlap": false, "labelFontSize": 5.5, "labelColor": "#4D4D4D", "tickSize": 2, "tickColor": "#4D4D4D", "domain": false, "grid": false}},
            "color": {"field": "group", "type": "nominal", "scale": {"domain": ["PDC4", "PDC12", "PDC14"], "range": ["#FF0000", "#1E90FF", "#FFFF00"]}, "legend": null}
          }},
         {"data": {"name": "timbr"}, "mark": {"type": "rule", "color": "#1F2A5A", "strokeWidth": 0.8},
          "encoding": {"x": {"field": "x1", "type": "quantitative"}, "x2": {"field": "x2"}, "y": {"field": "y", "type": "quantitative", "axis": {"title": "TIM3", "titleFontSize": 5.5, "titlePadding": 3, "values": [0, 100, 200, 300, 400, 500], "labelOverlap": false, "labelFontSize": 5.5, "labelColor": "#4D4D4D", "tickSize": 2, "tickColor": "#4D4D4D", "domain": false, "grid": false}}}},
         {"data": {"name": "timtx"}, "mark": {"type": "text", "fontSize": 8, "color": "#1F2A5A", "baseline": "bottom"},
          "encoding": {"x": {"field": "x", "type": "quantitative"}, "y": {"field": "y", "type": "quantitative", "axis": {"title": "TIM3", "titleFontSize": 5.5, "titlePadding": 3, "values": [0, 100, 200, 300, 400, 500], "labelOverlap": false, "labelFontSize": 5.5, "labelColor": "#4D4D4D", "tickSize": 2, "tickColor": "#4D4D4D", "domain": false, "grid": false}}, "text": {"field": "t", "type": "nominal"}}},
         {"data": {"name": "timlab"}, "mark": {"type": "text", "fontSize": 10.5},
          "encoding": {"x": {"field": "x", "type": "quantitative"}, "y": {"field": "y", "type": "quantitative", "axis": {"title": "TIM3", "titleFontSize": 5.5, "titlePadding": 3, "values": [0, 100, 200, 300, 400, 500], "labelOverlap": false, "labelFontSize": 5.5, "labelColor": "#4D4D4D", "tickSize": 2, "tickColor": "#4D4D4D", "domain": false, "grid": false}}, "text": {"field": "t", "type": "nominal"}, "color": {"field": "t", "type": "nominal", "legend": null}}}
       ]}
       ]}
      ], "spacing": 0},
      {"hconcat": [
       {"width": 14, "height": 1, "data": {"values": []}, "mark": "point"},
       {"hconcat": [
        {"title": {"text": "RF14", "fontSize": 6.5, "offset": 2, "color": "#404040", "anchor": "middle"},
         "width": 78, "height": 70, "view": {"stroke": "#EDEDED"},
         "data": {"name": "rfc"},
         "mark": {"type": "line", "interpolate": "monotone", "color": "#9DC3E6", "strokeWidth": 1},
         "encoding": {
           "x": {"field": "pdc", "type": "ordinal", "sort": null, "scale": {"type": "point", "padding": 0.28}, "axis": {"title": null, "labelAngle": -45, "labelFontSize": 6.5, "labelColor": "#595959", "ticks": false, "domain": false, "labelPadding": 3}},
           "y": {"field": "RF14", "type": "quantitative", "scale": {"domain": [0, 1500000]}, "axis": {"title": null, "values": [0, 300000, 600000, 900000, 1200000, 1500000], "format": "d", "labelFontSize": 4, "ticks": false, "domain": false, "labelPadding": 4, "gridColor": "#EBEBEB"}}
         }},
        {"title": {"text": "RF15", "fontSize": 6.5, "offset": 2, "color": "#404040", "anchor": "middle"},
         "width": 76, "height": 70, "view": {"stroke": "#EDEDED"},
         "data": {"name": "rfc"},
         "mark": {"type": "line", "interpolate": "monotone", "color": "#F4B183", "strokeWidth": 1},
         "encoding": {
           "x": {"field": "pdc", "type": "ordinal", "sort": null, "scale": {"type": "point", "padding": 0.28}, "axis": {"title": null, "labelAngle": -45, "labelFontSize": 6.5, "labelColor": "#595959", "ticks": false, "domain": false, "labelPadding": 3}},
           "y": {"field": "RF15", "type": "quantitative", "scale": {"domain": [0, 1500000]}, "axis": {"title": null, "values": [0, 300000, 600000, 900000, 1200000, 1500000], "labels": false, "ticks": false, "domain": false, "gridColor": "#EBEBEB"}}
         }}
       ], "spacing": 8}
      ], "spacing": 0}
     ], "spacing": 22},
    {"title": {"text": "J", "anchor": "start", "offset": -19, "fontSize": 12, "color": "#000000", "dx": 8},
     "resolve": {"scale": {"color": "independent", "stroke": "independent"}, "legend": {"color": "independent", "stroke": "independent"}},
     "vconcat": [
      {"resolve": {"scale": {"color": "independent", "stroke": "independent"}, "legend": {"color": "independent", "stroke": "independent"}},
       "vconcat": [
       {"width": 1, "height": 7, "data": {"values": []}, "mark": "point"},
       {"resolve": {"scale": {"color": "independent", "stroke": "independent"}, "legend": {"color": "independent", "stroke": "independent"}},
       "hconcat": [
       {"width": 8, "height": 1, "data": {"values": []}, "mark": "point"},
       {"resolve": {"scale": {"color": "independent", "stroke": "independent"}, "legend": {"color": "independent", "stroke": "independent"}},
        "vconcat": [
       {"title": {"text": "Active oxygen species detection", "fontSize": 11.5, "offset": 3, "color": "#262626", "anchor": "middle"},
       "width": 216, "height": 133,
       "view": {"stroke": "#A6A6A6", "strokeWidth": 0.8},
       "data": {"name": "ros"},
       "encoding": {"x": {"field": "pdc", "type": "nominal", "sort": ["PDC1", "PDC14", "PDC12", "PDC4", "PDC7", "PDC10"], "scale": {"paddingInner": 0.6, "paddingOuter": 0.3}, "axis": {"title": null, "labelAngle": -45, "labelFontSize": 7.5, "labelColor": "#4D4D4D", "tickSize": 2.5, "tickColor": "#4D4D4D", "domain": false, "grid": true, "gridColor": "#EBEBEB", "bandPosition": 0.5}}},
       "layer": [
         {"mark": {"type": "bar", "fillOpacity": 0.12, "strokeWidth": 0.8},
          "encoding": {
            "y": {"aggregate": "min", "field": "v", "type": "quantitative", "scale": {"domain": [122, 615], "nice": false, "zero": false}, "axis": {"title": "Fluorescence Intensity (530nm)", "titleFontSize": 8.5, "titleColor": "#1A1A1A", "titlePadding": 4, "values": [150, 200, 250, 300, 350, 400, 450, 500, 550, 600], "labelExpr": "datum.value % 100 == 0 ? datum.label : ''", "labelFontSize": 7.5, "labelColor": "#4D4D4D", "tickSize": 2.5, "tickColor": "#4D4D4D", "tickOpacity": {"condition": {"test": "datum.value % 100 == 0", "value": 1}, "value": 0}, "domain": false, "grid": true, "gridColor": {"condition": {"test": "datum.value % 100 == 0", "value": "#E3E3E3"}, "value": "#F2F2F2"}}},
            "y2": {"aggregate": "max", "field": "v"},
            "color": {"field": "pdc", "type": "nominal", "scale": {"domain": ["PDC1", "PDC14", "PDC12", "PDC4", "PDC7", "PDC10"], "range": ["#F8766D", "#B79F00", "#00BA38", "#00BFC4", "#619CFF", "#F564E3"]}, "legend": null},
            "stroke": {"field": "pdc", "type": "nominal", "scale": {"domain": ["PDC1", "PDC14", "PDC12", "PDC4", "PDC7", "PDC10"], "range": ["#F8766D", "#B79F00", "#00BA38", "#00BFC4", "#619CFF", "#F564E3"]}, "legend": null}
          }},
         {"mark": {"type": "circle", "size": 7, "opacity": 1},
          "encoding": {
            "y": {"field": "v", "type": "quantitative"},
            "xOffset": {"field": "rep", "type": "nominal"},
            "color": {"field": "pdc", "type": "nominal", "legend": null}
          }}
       ]}
       ]}
      ], "spacing": 0}
      ], "spacing": 0},
      {"resolve": {"scale": {"color": "independent", "stroke": "independent"}, "legend": {"color": "independent", "stroke": "independent"}},
       "hconcat": [
       {"width": 1, "height": 1, "data": {"values": []}, "mark": "point"},
       {"resolve": {"scale": {"color": "independent", "stroke": "independent"}, "legend": {"color": "independent", "stroke": "independent"}},
        "vconcat": [
       {"width": 192, "height": 70, "data": {"name": "jline"},
       "layer": [
         {"transform": [{"fold": ["RF8", "RF9", "RF10", "RF11"], "as": ["rf", "v"]}],
          "mark": {"type": "line", "strokeWidth": 1.5, "point": {"size": 10, "filled": true}},
          "encoding": {
            "x": {"field": "pdc", "type": "ordinal", "sort": null, "scale": {"type": "point", "padding": 0.32}, "axis": {"title": null, "labelAngle": -45, "labelFontSize": 6.5, "labelColor": "#595959", "ticks": false, "domain": false, "labelPadding": 3}},
            "y": {"field": "v", "type": "quantitative", "scale": {"domain": [0, 125]}, "axis": {"orient": "left", "title": null, "values": [0, 25, 50, 75, 100, 125], "labelFontSize": 6, "labelColor": "#8FAADC", "labelPadding": 3, "ticks": false, "domain": false, "grid": true, "gridColor": "#E6E6E6"}},
            "color": {"field": "rf", "type": "nominal", "scale": {"domain": ["RF8", "RF9", "RF10", "RF11", "RF7", "RF13"], "range": ["#41719C", "#5B9BD5", "#7FA9DB", "#B4CDEA", "#D2691E", "#F4B183"]}, "legend": {"title": null, "orient": "right", "labelFontSize": 5.5, "labelColor": "#595959", "symbolType": "stroke", "symbolSize": 40, "symbolStrokeWidth": 1.5, "rowPadding": 2, "offset": 6, "padding": 0}}
          }},
         {"transform": [{"fold": ["RF7", "RF13"], "as": ["rf", "v"]}],
          "mark": {"type": "line", "strokeWidth": 1.5, "point": {"size": 10, "filled": true}},
          "encoding": {
            "x": {"field": "pdc", "type": "ordinal", "sort": null},
            "y": {"field": "v", "type": "quantitative", "scale": {"domain": [0, 900]}, "axis": {"orient": "left", "title": null, "values": [0, 180, 360, 540, 720, 900], "labelFontSize": 6, "labelColor": "#ED7D31", "labelPadding": 16, "ticks": false, "domain": false, "grid": false}},
            "color": {"field": "rf", "type": "nominal"}
          }}
       ],
       "resolve": {"scale": {"y": "independent"}, "axis": {"y": "independent"}}}
       ]}
      ], "spacing": 0}
     ], "spacing": 8}
  ], "spacing": 112}
  ], "spacing": 0}
 ], "spacing": 4}
],
"spacing": 8
}
